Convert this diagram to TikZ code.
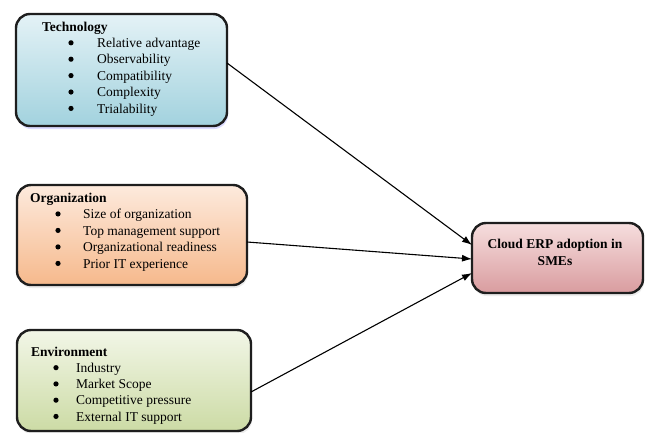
\documentclass[tikz,border=0pt]{standalone}
\usepackage{fontspec}
\setmainfont{Liberation Serif}
\usetikzlibrary{arrows.meta,shadows}
\definecolor{edge}{HTML}{1E1E1E}
\definecolor{techtop}{HTML}{E4F2F6}
\definecolor{techbot}{HTML}{A2D2DE}
\definecolor{orgtop}{HTML}{FDEADD}
\definecolor{orgbot}{HTML}{F6B98C}
\definecolor{envtop}{HTML}{F2F6E7}
\definecolor{envbot}{HTML}{CCDBA5}
\definecolor{cldtop}{HTML}{F6DEDE}
\definecolor{cldbot}{HTML}{D99C9F}
\begin{document}
\begin{tikzpicture}[x=1pt,y=-1pt,
  box/.style={draw=edge, line width=2.4pt, rounded corners=14pt, inner sep=0pt, outer sep=0pt},
  ttl/.style={anchor=base west, font=\fontsize{13.5}{16.4}\selectfont\bfseries, inner sep=0pt},
  itm/.style={anchor=base west, font=\fontsize{13.5}{16.4}\selectfont, inner sep=0pt},
  bul/.style={fill=black},
  link/.style={-{Latex[length=10pt,width=7pt]}, line width=1.1pt, draw=black}]
\useasboundingbox (0,0) rectangle (649,432);

% boxes
\node[box, minimum width=211pt, minimum height=112pt, top color=techtop, bottom color=techbot,
  drop shadow={shadow xshift=1pt, shadow yshift=-3pt, fill=blue!40, opacity=0.35}] (tech) at (121.5,70) {};
\node[box, minimum width=230pt, minimum height=100pt, top color=orgtop, bottom color=orgbot,
  drop shadow={shadow xshift=1pt, shadow yshift=-3pt, fill=black!25, opacity=0.3}] (org) at (132,235) {};
\node[box, minimum width=234pt, minimum height=101pt, top color=envtop, bottom color=envbot,
  drop shadow={shadow xshift=1pt, shadow yshift=-3pt, fill=black!25, opacity=0.3}] (env) at (134,380.5) {};
\node[box, minimum width=171pt, minimum height=70pt, top color=cldtop, bottom color=cldbot,
  drop shadow={shadow xshift=1pt, shadow yshift=-3pt, fill=black!25, opacity=0.3}] (cloud) at (557.5,258) {};

% Technology text
\node[ttl] (techT) at (42,31) {Technology};
\foreach \t [count=\i] in {Relative advantage, Observability, Compatibility, Complexity, Trialability}{
  \fill[bul] (71,{31+16.4*\i-4.6}) circle (2.6pt);
  \node[itm] (tech-\i) at (97,{31+16.4*\i}) {\t};}

% Organization text
\node[ttl] (orgT) at (30,202) {Organization};
\foreach \t [count=\i] in {Size of organization, Top management support, Organizational readiness, Prior IT experience}{
  \fill[bul] (58,{202+16.5*\i-4.6}) circle (2.6pt);
  \node[itm] (org-\i) at (83,{202+16.5*\i}) {\t};}

% Environment text
\node[ttl] (envT) at (31,356) {Environment};
\foreach \t [count=\i] in {Industry, Market Scope, Competitive pressure, External IT support}{
  \fill[bul] (56,{356+16.25*\i-4.6}) circle (2.6pt);
  \node[itm] (env-\i) at (76,{356+16.25*\i}) {\t};}

% Cloud text
\node[font=\fontsize{13.5}{16.4}\selectfont\bfseries, align=center, inner sep=0pt, anchor=base] (cloudT) at (555,265) {Cloud ERP adoption in\\SMEs};

% connectors
\draw[link] ([yshift=7pt]tech.east) -- ([yshift=13pt]cloud.west);
\draw[link] ([yshift=-7pt]org.east) -- ([yshift=-1pt]cloud.west);
\draw[link] ([yshift=-11.5pt]env.east) -- ([yshift=-15pt]cloud.west);
\end{tikzpicture}
\end{document}
